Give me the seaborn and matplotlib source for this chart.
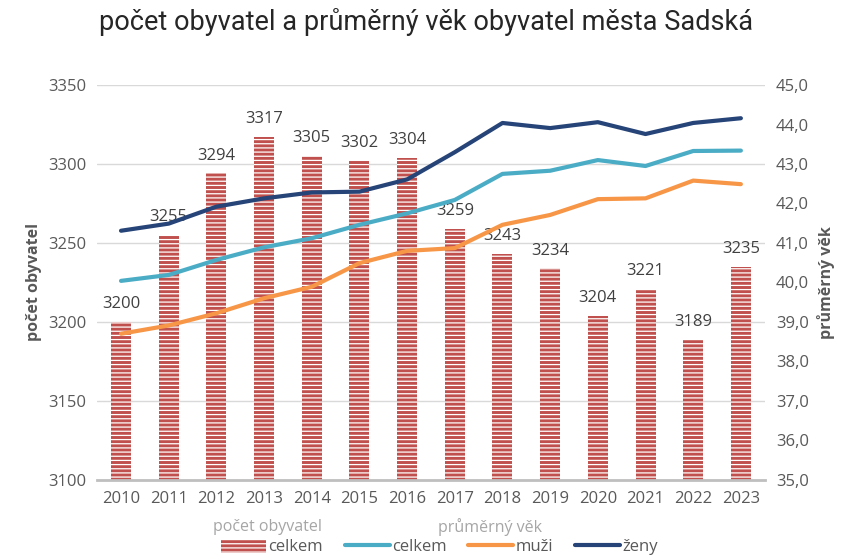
import pandas as pd
import numpy as np
import matplotlib.pyplot as plt
import seaborn as sns
from matplotlib.patches import Patch
from matplotlib.lines import Line2D

# data
roky = [2010, 2011, 2012, 2013, 2014, 2015, 2016, 2017, 2018, 2019, 2020, 2021, 2022, 2023]
pocet = [3200, 3255, 3294, 3317, 3305, 3302, 3304, 3259, 3243, 3234, 3204, 3221, 3189, 3235]
vek_celkem = [40.04, 40.19, 40.57, 40.89, 41.12, 41.46, 41.75, 42.09, 42.75, 42.83, 43.10, 42.95, 43.33, 43.34]
vek_muzi = [38.70, 38.91, 39.22, 39.60, 39.89, 40.49, 40.80, 40.87, 41.46, 41.71, 42.11, 42.13, 42.58, 42.49]
vek_zeny = [41.31, 41.49, 41.92, 42.13, 42.28, 42.30, 42.61, 43.30, 44.04, 43.91, 44.06, 43.76, 44.04, 44.16]

red = "#c0504d"
cyan = "#4bacc6"
orange = "#f79646"
navy = "#264478"
txt = "#595959"

sns.set_theme(style="white")
plt.rcParams['font.family'] = ['Open Sans', 'DejaVu Sans']
plt.rcParams['hatch.linewidth'] = 0.9

bars = pd.DataFrame({"rok": roky, "pocet": pocet})
lines = pd.DataFrame({"pos": np.arange(len(roky)), "celkem": vek_celkem,
                      "muži": vek_muzi, "ženy": vek_zeny})
lines = lines.melt(id_vars="pos", var_name="skupina", value_name="vek")

fig = plt.figure(figsize=(8.45, 5.56), dpi=100)
ax = fig.add_axes([0.115, 0.137, 0.79, 0.71])

sns.barplot(data=bars, x="rok", y="pocet", color=red, width=0.42, ax=ax, saturation=1)
for p in ax.patches:
    p.set_hatch("----")
    p.set_edgecolor("white")
    p.set_linewidth(0)
ax.bar_label(ax.containers[0], padding=7, fontsize=12, color="#404040")

ax.set_ylim(3100, 3350)
ax.set_yticks(range(3100, 3351, 50))
ax.set_xlim(-0.5, len(roky) - 0.5)
ax.yaxis.grid(True, color="#d9d9d9", lw=1)
ax.set_axisbelow(True)
for s in ["top", "right", "left"]:
    ax.spines[s].set_visible(False)
ax.spines["bottom"].set_color("#bfbfbf")
ax.spines["bottom"].set_linewidth(2)
ax.tick_params(axis="both", length=0, labelsize=12, colors=txt, pad=8)
ax.set_xlabel("")
ax.set_ylabel("počet obyvatel", fontsize=11.5, fontweight="bold", color=txt, labelpad=4)

ax2 = ax.twinx()
sns.lineplot(data=lines, x="pos", y="vek", hue="skupina",
             palette={"celkem": cyan, "muži": orange, "ženy": navy},
             lw=3, ax=ax2, legend=False)
ax2.set_ylim(35, 45)
ax2.set_yticks(range(35, 46))
ax2.set_yticklabels([f"{v},0" for v in range(35, 46)])
ax2.set_xlim(-0.5, len(roky) - 0.5)
for s in ["top", "right", "left", "bottom"]:
    ax2.spines[s].set_visible(False)
ax2.tick_params(axis="y", length=0, labelsize=12, colors=txt, pad=8)
ax2.set_ylabel("průměrný věk", fontsize=11.5, fontweight="bold", color=txt, labelpad=6)
ax2.set_xlabel("")

fig.suptitle("počet obyvatel a průměrný věk obyvatel města Sadská",
             x=0.504, y=0.96, va="center", fontsize=19.5, color="#262626",
             family=['Roboto', 'DejaVu Sans'])

handles = [Patch(facecolor=red, edgecolor="white", hatch="----", lw=0),
           Line2D([], [], color=cyan, lw=3),
           Line2D([], [], color=orange, lw=3),
           Line2D([], [], color=navy, lw=3)]
fig.legend(handles, ["celkem", "celkem", "muži", "ženy"], ncol=4,
           loc="center", bbox_to_anchor=(0.52, 0.016), frameon=False,
           fontsize=12, labelcolor=txt, handlelength=2.7, handleheight=0.9,
           handletextpad=0.15, columnspacing=1.3)
fig.text(0.316, 0.052, "počet obyvatel", ha="center", va="center", fontsize=11.5, color="#a6a6a6")
fig.text(0.58, 0.052, "průměrný věk", ha="center", va="center", fontsize=11.5, color="#a6a6a6")

fig.savefig("out.png", dpi=100)
